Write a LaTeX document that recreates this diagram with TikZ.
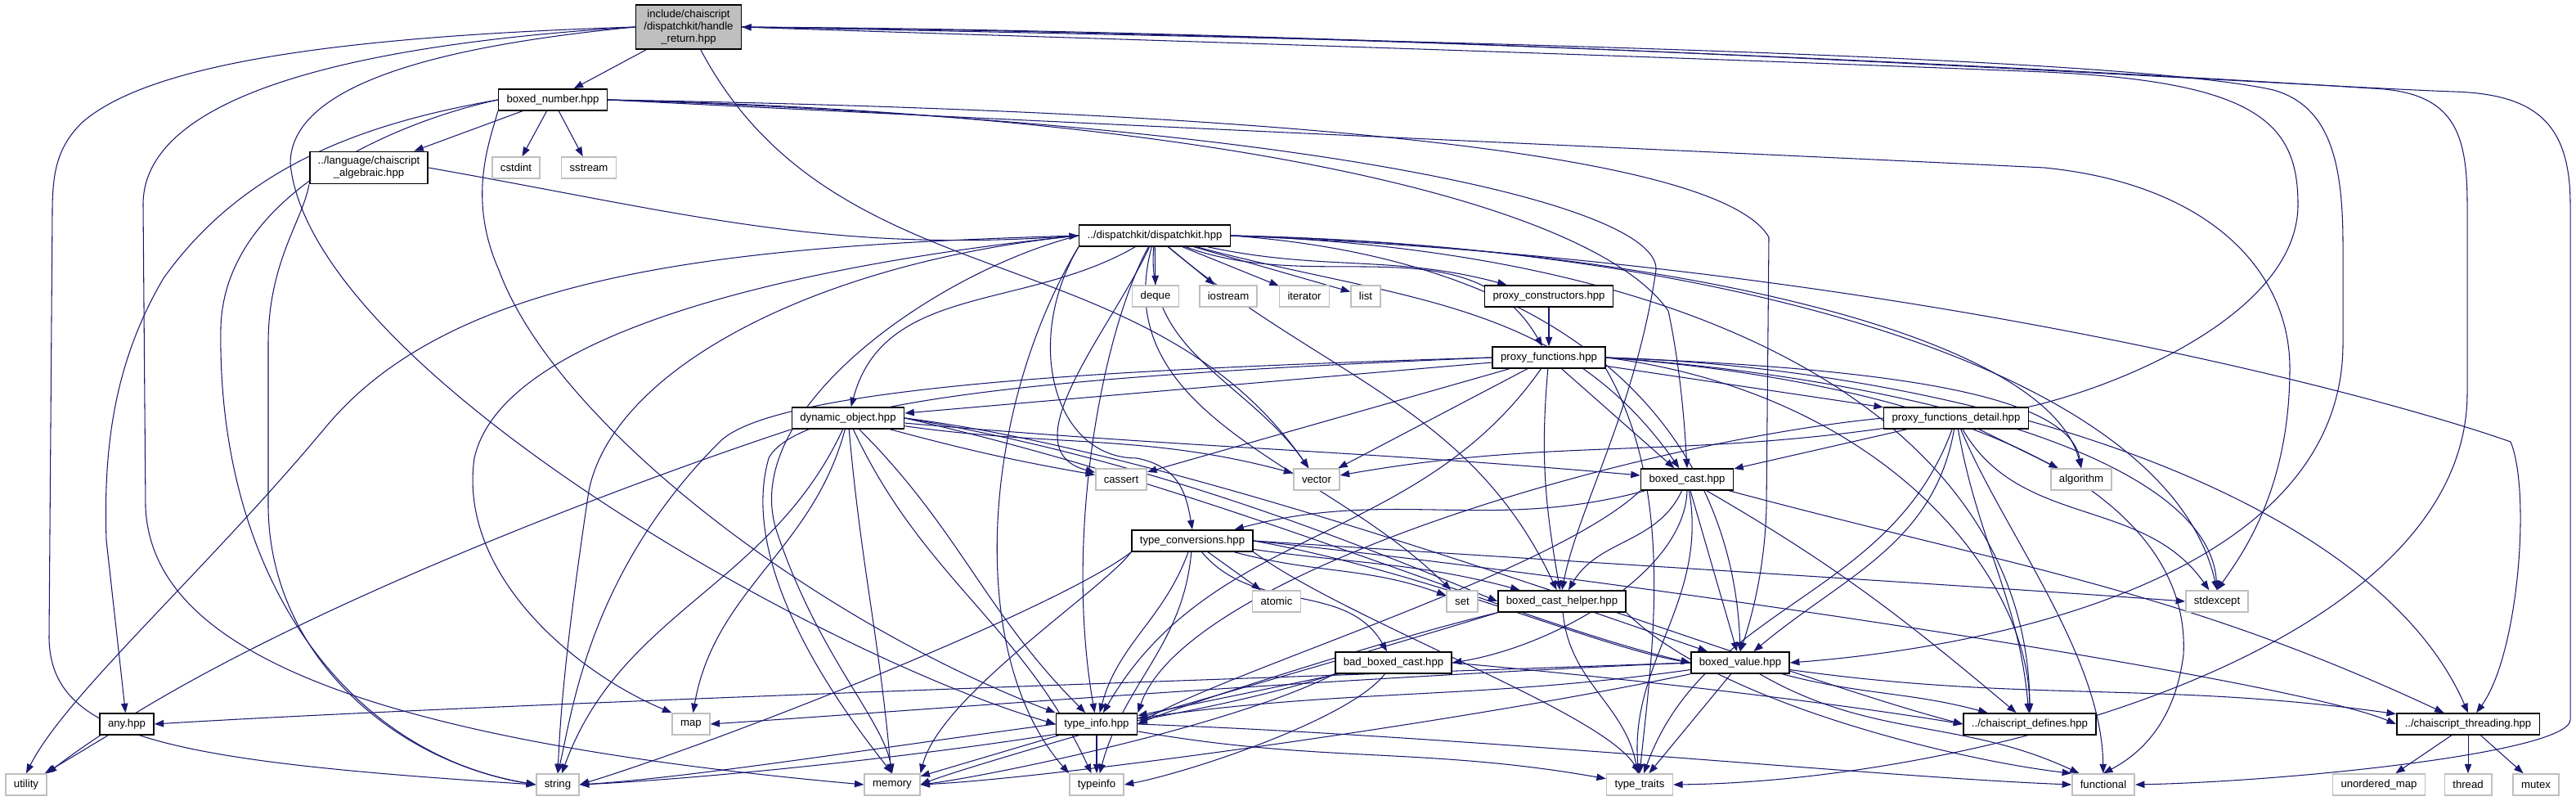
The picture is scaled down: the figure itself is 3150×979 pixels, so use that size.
\documentclass[tikz,border=0pt]{standalone}
\usepackage{fontspec}
\setmainfont{Liberation Sans}
\usetikzlibrary{arrows.meta}
\definecolor{edgeblue}{HTML}{191970}
\definecolor{boxgray}{HTML}{BFBFBF}
\pgfdeclarelayer{back}
\pgfsetlayers{back,main}

\begin{document}
\begin{tikzpicture}[x=0.02cm, y=0.02cm,
    hdr/.style={draw=black, line width=0.9pt, fill=white, inner xsep=0.2cm, inner ysep=0.12cm,
                minimum height=0.52cm, font=\fontsize{7.5}{8.6}\selectfont, align=center},
    sys/.style={hdr, draw=boxgray},
    incl/.style={draw=edgeblue, line width=0.6pt, -{Triangle[length=6.5pt,width=4.8pt]}}]
        \useasboundingbox (0,0) rectangle (3150,-979);

        % The file itself
        \node[hdr, fill=boxgray] (handleret) at (842,-33) {include/chaiscript\\/dispatchkit/handle\\\_return.hpp};
        \node[hdr] (boxednum) at (676,-122) {boxed\_number.hpp};
        \node[hdr] (algebraic) at (451,-205) {../language/chaiscript\\\_algebraic.hpp};
        \node[sys] (cstdint) at (631,-205) {cstdint};
        \node[sys] (sstream) at (720,-205) {sstream};
        \node[hdr] (dispkit) at (1412,-288) {../dispatchkit/dispatchkit.hpp};

        % Row under dispatchkit
        \node[sys] (deque) at (1413,-362) {deque};
        \node[sys] (iostream) at (1502,-362) {iostream};
        \node[sys] (iterator) at (1595,-362) {iterator};
        \node[sys] (list) at (1670,-362) {list};
        \node[hdr] (proxycons) at (1894,-362) {proxy\_constructors.hpp};
        \node[hdr] (proxyfun) at (1894,-437) {proxy\_functions.hpp};
        \node[hdr] (dynobj) at (1037,-511) {dynamic\_object.hpp};
        \node[hdr] (proxydet) at (2392,-511) {proxy\_functions\_detail.hpp};
        \node[sys] (cassert) at (1371,-586) {cassert};
        \node[sys] (vector) at (1610,-586) {vector};
        \node[hdr] (boxedcast) at (2063,-586) {boxed\_cast.hpp};
        \node[sys] (algorithm) at (2545,-586) {algorithm};
        \node[hdr] (typeconv) at (1458,-661) {type\_conversions.hpp};
        \node[sys] (atomic) at (1561,-735) {atomic};
        \node[sys] (set) at (1788,-735) {set};
        \node[hdr] (casthelper) at (1910,-735) {boxed\_cast\_helper.hpp};
        \node[sys] (stdexcept) at (2711,-735) {stdexcept};
        \node[hdr] (badcast) at (1704,-810) {bad\_boxed\_cast.hpp};
        \node[hdr] (boxedval) at (2128,-810) {boxed\_value.hpp};
        \node[hdr] (anyhpp) at (155,-885) {any.hpp};
        \node[sys] (map) at (845,-885) {map};
        \node[hdr] (typeinfohpp) at (1341,-885) {type\_info.hpp};
        \node[hdr] (defines) at (2482,-885) {../chaiscript\_defines.hpp};
        \node[hdr] (threading) at (3018,-885) {../chaiscript\_threading.hpp};

        % Bottom row
        \node[sys] (utility) at (32,-959) {utility};
        \node[sys] (string) at (682,-959) {string};
        \node[sys] (memory) at (1091,-959) {memory};
        \node[sys] (typeinfo) at (1341,-959) {typeinfo};
        \node[sys] (typetraits) at (2005,-959) {type\_traits};
        \node[sys] (functional) at (2572,-959) {functional};
        \node[sys] (unorderedmap) at (2909,-959) {unordered\_map};
        \node[sys] (thread) at (3018,-959) {thread};
        \node[sys] (mutex) at (3101,-959) {mutex};

        \begin{pgfonlayer}{back}
        % handle_return.hpp
        \draw[incl] (handleret) -- (boxednum);
        \draw[incl] (handleret.west) .. controls (400,-45) and (180,-80) .. (100,-150) .. controls (70,-180) and (64,-210) .. (64,-260) -- (60,-780) .. controls (62,-900) and (200,-930) .. (string.west);
        \draw[incl] (handleret.west) .. controls (500,-50) and (175,-100) .. (175,-250) -- (178,-620) .. controls (185,-780) and (400,-900) .. (memory.west);
        \draw[incl] (handleret.west) .. controls (550,-55) and (355,-100) .. (355,-200) .. controls (380,-450) and (1000,-800) .. (typeinfohpp.west);
        \draw[incl] (handleret) to[out=-62,in=125] (vector);
        \draw[incl] (handleret.east) .. controls (1800,-50) and (2600,-70) .. (2780,-110) .. controls (2850,-130) and (2865,-200) .. (2865,-300) -- (2865,-420) .. controls (2865,-700) and (2450,-790) .. (boxedval.east);
        \draw[incl] (handleret.east) .. controls (1800,-42) and (2700,-95) .. (2900,-108) .. controls (3000,-112) and (3017,-160) .. (3017,-250) -- (3017,-480) .. controls (3017,-800) and (2400,-955) .. (typetraits.east);
        \draw[incl] (handleret.east) .. controls (1800,-38) and (2800,-105) .. (3000,-112) .. controls (3100,-115) and (3143,-150) .. (3143,-250) -- (3143,-880) .. controls (3140,-920) and (2800,-955) .. (functional.east);

        % boxed_number.hpp
        \draw[incl] (boxednum) -- (algebraic);
        \draw[incl] (boxednum) -- (cstdint);
        \draw[incl] (boxednum) -- (sstream);
        \draw[incl] (boxednum.west) .. controls (500,-145) and (275,-230) .. (270,-400) .. controls (265,-700) and (420,-920) .. (string.west);
        \draw[incl] (boxednum.west) .. controls (450,-150) and (300,-200) .. (200,-340) .. controls (135,-450) and (127,-560) .. (130,-660) -- (anyhpp);
        \draw[incl] (boxednum.south west) .. controls (600,-170) and (570,-240) .. (610,-330) .. controls (680,-520) and (1000,-760) .. (typeinfohpp.north west);
        \draw[incl] (boxednum.east) .. controls (1500,-160) and (2200,-190) .. (2500,-205) .. controls (2700,-225) and (2800,-330) .. (2800,-450) .. controls (2800,-600) and (2740,-680) .. (stdexcept.north);
        \draw[incl] (boxednum.east) .. controls (1500,-140) and (1950,-250) .. (2040,-380) .. controls (2055,-450) and (2060,-520) .. (boxedcast.north);
        \draw[incl] (boxednum.east) .. controls (1600,-150) and (2030,-250) .. (2025,-330) .. controls (2000,-500) and (1930,-620) .. (casthelper.north);
        \draw[incl] (boxednum.east) .. controls (1500,-135) and (2100,-180) .. (2163,-290) -- (2160,-620) .. controls (2158,-700) and (2140,-760) .. (boxedval.north);

        % language/chaiscript_algebraic.hpp
        \draw[incl] (algebraic.east) to[out=-10,in=184] (dispkit.west);
        \draw[incl] (algebraic.south west) .. controls (370,-270) and (328,-320) .. (328,-420) -- (328,-620) .. controls (330,-800) and (480,-930) .. (string.west);

        % dispatchkit.hpp
        \draw[incl] (dispkit) -- (deque);
        \draw[incl] (dispkit) -- (iostream);
        \draw[incl] (dispkit) -- (iterator);
        \draw[incl] (dispkit) -- (list);
        \draw[incl] (dispkit) to[out=-12,in=165] (proxycons);
        \draw[incl] (dispkit) to[out=-20,in=120] (proxyfun);
        \draw[incl] (dispkit) to[out=-150,in=75] (dynobj);
        \draw[incl] (dispkit) to[out=-115,in=165] (cassert);
        \draw[incl] (dispkit) to[out=-95,in=125] (vector);
        \draw[incl] (dispkit.south west) .. controls (1250,-420) and (1290,-560) .. (1390,-560) .. controls (1440,-570) and (1450,-600) .. (typeconv.north);
        \draw[incl] (dispkit) to[out=-105,in=135] (set);
        \draw[incl] (dispkit.east) .. controls (2100,-300) and (2650,-450) .. (stdexcept.north);
        \draw[incl] (dispkit) to[out=-15,in=125] (boxedcast);
        \draw[incl] (dispkit) to[out=-40,in=115] (casthelper);
        \draw[incl] (dispkit.east) .. controls (1950,-320) and (2120,-550) .. (boxedval.north);
        \draw[incl] (dispkit.east) .. controls (2000,-300) and (2500,-400) .. (algorithm.north);
        \draw[incl] (dispkit.east) .. controls (2150,-310) and (2480,-550) .. (defines.north);
        \draw[incl] (dispkit.east) .. controls (2300,-320) and (2900,-480) .. (3070,-540) .. controls (3095,-600) and (3080,-800) .. (threading);
        \draw[incl] (dispkit.west) .. controls (1100,-310) and (620,-380) .. (580,-560) .. controls (560,-700) and (700,-820) .. (map.north west);
        \draw[incl] (dispkit.west) .. controls (1150,-330) and (900,-500) .. (950,-650) .. controls (1000,-800) and (1080,-880) .. (memory.north);
        \draw[incl] (dispkit.west) .. controls (1000,-320) and (750,-450) .. (720,-600) .. controls (690,-800) and (685,-880) .. (string.north);
        \draw[incl] (dispkit.south west) .. controls (1200,-500) and (1180,-800) .. (typeinfo.north west);
        \draw[incl] (dispkit.west) .. controls (900,-300) and (560,-330) .. (400,-520) .. controls (250,-700) and (80,-850) .. (utility.north);
        \draw[incl] (dispkit) .. controls (1350,-400) and (1300,-650) .. (typeinfohpp);

        % proxy_constructors.hpp
        \draw[incl] (proxycons) -- (proxyfun);

        % proxy_functions.hpp
        \draw[incl] (proxyfun) -- (dynobj);
        \draw[incl] (proxyfun) -- (proxydet);
        \draw[incl] (proxyfun) -- (cassert);
        \draw[incl] (proxyfun) -- (vector);
        \draw[incl] (proxyfun) -- (boxedcast);
        \draw[incl] (proxyfun) to[out=-95,in=100] (casthelper);
        \draw[incl] (proxyfun) to[out=-125,in=60] (typeinfohpp);
        \draw[incl] (proxyfun.west) .. controls (1400,-450) and (950,-470) .. (880,-540) .. controls (720,-700) and (700,-870) .. (string.north);
        \draw[incl] (proxyfun.west) .. controls (1400,-455) and (980,-480) .. (940,-560) .. controls (900,-700) and (1040,-880) .. (memory.north);
        \draw[incl] (proxyfun.east) .. controls (2300,-450) and (2530,-480) .. (algorithm.north);
        \draw[incl] (proxyfun.east) .. controls (2300,-460) and (2700,-550) .. (stdexcept.north);
        \draw[incl] (proxyfun.east) .. controls (2400,-470) and (2680,-600) .. (2670,-800) .. controls (2660,-880) and (2620,-920) .. (functional.north);
        \draw[incl] (proxyfun.south east) .. controls (2050,-600) and (2020,-800) .. (typetraits.north);
        \draw[incl] (proxyfun.east) .. controls (2300,-480) and (2480,-700) .. (defines.north);
        \draw[incl] (proxyfun.east) .. controls (2400,-450) and (2900,-600) .. (threading.north);

        % dynamic_object.hpp
        \draw[incl] (dynobj) to[out=-15,in=170] (cassert);
        \draw[incl] (dynobj) to[out=-8,in=165] (vector);
        \draw[incl] (dynobj) to[out=-5,in=175] (boxedcast);
        \draw[incl] (dynobj.south west) .. controls (800,-580) and (300,-760) .. (utility.north east);
        \draw[incl] (dynobj) to[out=-115,in=70] (string);
        \draw[incl] (dynobj) to[out=-105,in=80] (map);
        \draw[incl] (dynobj) to[out=-85,in=95] (memory);
        \draw[incl] (dynobj) to[out=-65,in=115] (typeinfo);
        \draw[incl] (dynobj) to[out=-45,in=135] (typeinfohpp);
        \draw[incl] (dynobj.east) .. controls (1400,-560) and (1650,-660) .. (casthelper.west);
        \draw[incl] (dynobj.east) .. controls (1500,-600) and (1850,-760) .. (boxedval.west);
        \draw[incl] (dynobj.east) .. controls (1500,-560) and (2150,-820) .. (defines.west);

        % proxy_functions_detail.hpp
        \draw[incl] (proxydet.north east) .. controls (2600,-470) and (2810,-380) .. (2810,-250) .. controls (2810,-150) and (2760,-100) .. (2500,-88) .. controls (1800,-60) and (1100,-40) .. (handleret.east);
        \draw[incl] (proxydet) -- (algorithm);
        \draw[incl] (proxydet) -- (boxedcast);
        \draw[incl] (proxydet) to[out=188,in=10] (vector);
        \draw[incl] (proxydet) to[out=-60,in=125] (stdexcept);
        \draw[incl] (proxydet) to[out=-100,in=40] (boxedval);
        \draw[incl] (proxydet) to[out=-80,in=95] (defines);
        \draw[incl] (proxydet.west) .. controls (2000,-540) and (1450,-700) .. (typeinfohpp.north east);
        \draw[incl] (proxydet) .. controls (2450,-650) and (2570,-800) .. (functional);
        \draw[incl] (proxydet) to[out=-110,in=70] (typetraits);

        % boxed_cast.hpp
        \draw[incl] (boxedcast) to[out=-165,in=15] (typeconv);
        \draw[incl] (boxedcast) to[out=-115,in=60] (casthelper);
        \draw[incl] (boxedcast) -- (boxedval);
        \draw[incl] (boxedcast.south) .. controls (2060,-700) and (1900,-790) .. (badcast.east);
        \draw[incl] (boxedcast) to[out=-15,in=155] (threading);
        \draw[incl] (boxedcast) to[out=-30,in=140] (defines);
        \draw[incl] (boxedcast) to[out=-80,in=95] (typetraits);
        \draw[incl] (boxedcast.south west) .. controls (1900,-700) and (1500,-820) .. (typeinfohpp.east);

        % type_conversions.hpp
        \draw[incl] (typeconv) -- (atomic);
        \draw[incl] (typeconv) to[out=-15,in=160] (set);
        \draw[incl] (typeconv) to[out=-8,in=165] (casthelper);
        \draw[incl] (typeconv.east) .. controls (1900,-685) and (2400,-715) .. (stdexcept.west);
        \draw[incl] (typeconv) to[out=-50,in=120] (badcast);
        \draw[incl] (typeconv.east) .. controls (1750,-700) and (1950,-790) .. (boxedval.west);
        \draw[incl] (typeconv) to[out=-110,in=75] (typeinfohpp);
        \draw[incl] (typeconv.south west) .. controls (1350,-720) and (1150,-850) .. (memory.north east);
        \draw[incl] (typeconv) to[out=-95,in=75] (typeinfo);
        \draw[incl] (typeconv.south west) .. controls (1300,-740) and (900,-900) .. (string.east);
        \draw[incl] (typeconv.south east) .. controls (1650,-760) and (1960,-870) .. (typetraits.north);
        \draw[incl] (typeconv.east) .. controls (2000,-710) and (2800,-830) .. (threading.west);

        % boxed_cast_helper.hpp
        \draw[incl] (casthelper) -- (boxedval);
        \draw[incl] (casthelper.south west) .. controls (1700,-780) and (1450,-860) .. (typeinfohpp.east);
        \draw[incl] (casthelper.south west) .. controls (1600,-820) and (1200,-930) .. (memory.east);
        \draw[incl] (casthelper) to[out=-85,in=100] (typetraits);
        \draw[incl] (casthelper.south east) .. controls (2100,-860) and (2400,-930) .. (functional.north west);

        % bad_boxed_cast.hpp
        \draw[incl] (badcast.east) .. controls (2000,-830) and (2250,-860) .. (defines.west);
        \draw[incl] (badcast) -- (typeinfohpp);
        \draw[incl] (badcast.south west) .. controls (1400,-900) and (900,-950) .. (string.east);
        \draw[incl] (badcast) .. controls (1650,-880) and (1450,-945) .. (typeinfo.east);
        \draw[incl] (badcast.south west) .. controls (1500,-890) and (1200,-950) .. (memory.east);

        % boxed_value.hpp
        \draw[incl] (boxedval.west) .. controls (1500,-830) and (600,-860) .. (anyhpp.east);
        \draw[incl] (boxedval.west) .. controls (1600,-830) and (1100,-870) .. (map.east);
        \draw[incl] (boxedval) to[out=188,in=8] (typeinfohpp);
        \draw[incl] (boxedval.south west) .. controls (1800,-880) and (1300,-950) .. (memory.east);
        \draw[incl] (boxedval) -- (typetraits);
        \draw[incl] (boxedval) to[out=-30,in=155] (functional);
        \draw[incl] (boxedval) to[out=-15,in=165] (defines);
        \draw[incl] (boxedval) to[out=-8,in=172] (threading);

        % type_info.hpp
        \draw[incl] (typeinfohpp.west) .. controls (1100,-910) and (850,-950) .. (string.east);
        \draw[incl] (typeinfohpp) -- (memory);
        \draw[incl] (typeinfohpp) -- (typeinfo);
        \draw[incl] (typeinfohpp) to[out=-10,in=170] (typetraits);
        \draw[incl] (typeinfohpp.east) .. controls (1800,-900) and (2300,-950) .. (functional.west);

        % chaiscript_threading.hpp and any.hpp
        \draw[incl] (threading) -- (unorderedmap);
        \draw[incl] (threading) -- (thread);
        \draw[incl] (threading) -- (mutex);
        \draw[incl] (anyhpp) -- (utility);
        \end{pgfonlayer}
\end{tikzpicture}
\end{document}
